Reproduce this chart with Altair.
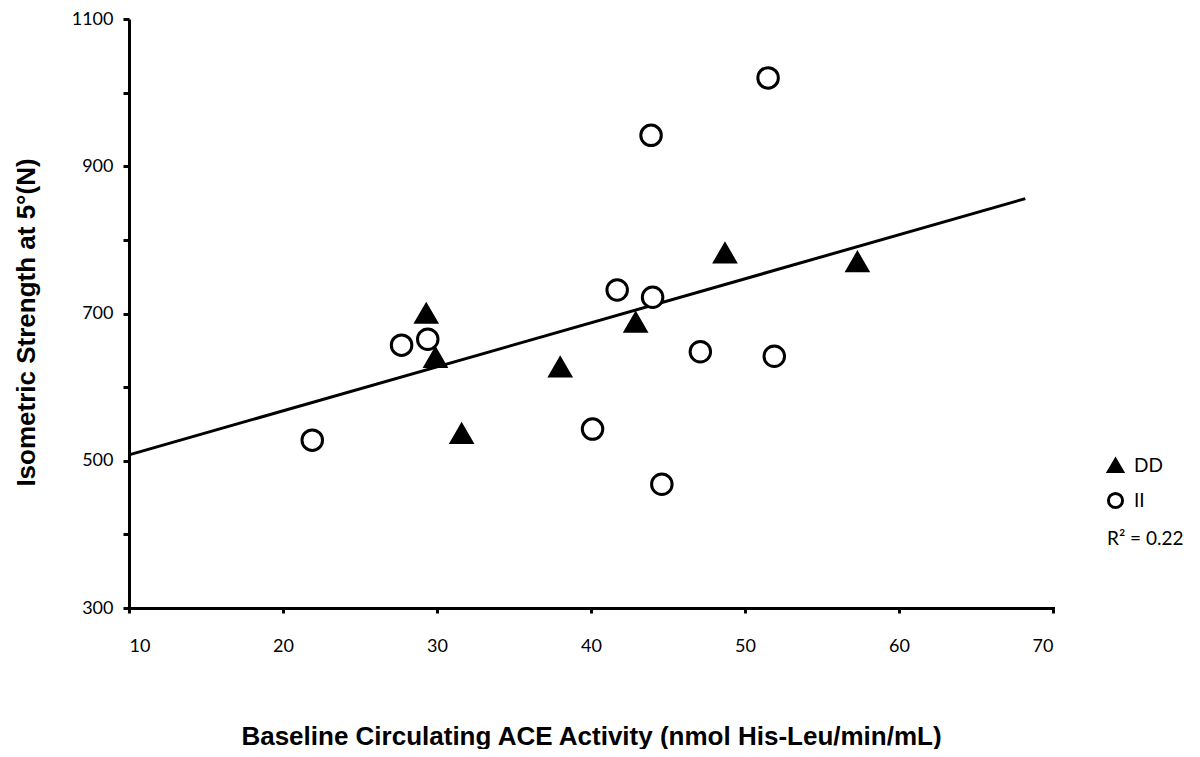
import altair as alt
import pandas as pd

# DD genotype (filled triangles)
dd_x = [29.3, 29.9, 31.6, 38.0, 42.9, 48.7, 57.3]
dd_y = [700, 640, 537, 627, 688, 782, 770]

# II genotype (open circles)
ii_x = [21.9, 27.7, 29.4, 40.1, 41.7, 43.9, 44.0, 44.6, 47.1, 51.5, 51.9]
ii_y = [528, 657, 665, 543, 732, 942, 722, 468, 648, 1020, 642]

# trend line end points
trend_x = [10, 68.2]
trend_y = [508, 856]

groups = ["DD", "II"]
r2_text = "R² = 0.22"

x_ticks = [10, 20, 30, 40, 50, 60, 70]
y_ticks = [300, 400, 500, 600, 700, 800, 900, 1000, 1100]

pts = pd.DataFrame(
    {"x": dd_x + ii_x, "y": dd_y + ii_y,
     "g": ["DD"] * len(dd_x) + ["II"] * len(ii_x)}
)
trend = pd.DataFrame({"x": trend_x, "y": trend_y})

LABEL_FONT = "Lato"
TITLE_FONT = "Liberation Sans"

xs = alt.Scale(domain=[10, 70], nice=False, zero=False)
ys = alt.Scale(domain=[300, 1100], nice=False, zero=False)

x_axis = alt.Axis(
    values=x_ticks, grid=False, domainColor="black", domainWidth=3,
    tickColor="black", tickWidth=3, tickSize=5, labelPadding=24,
    labelFont=LABEL_FONT, labelFontSize=18, labelColor="black",
    labelBaseline="top", format="d",
    title="Baseline Circulating ACE Activity (nmol His-Leu/min/mL)",
    titleFont=TITLE_FONT, titleFontSize=26, titleFontWeight="bold",
    titleColor="black", titleY=136, titleBaseline="alphabetic",
)
y_axis = alt.Axis(
    values=y_ticks, grid=False, domainColor="black", domainWidth=3,
    tickColor="black", tickWidth=3, tickSize=6, labelPadding=10,
    labelFont=LABEL_FONT, labelFontSize=18, labelColor="black",
    format="d",
    labelExpr="(datum.value - 300) % 200 == 0 ? datum.label : ''",
    title="Isometric Strength at 5°(N)",
    titleFont=TITLE_FONT, titleFontSize=26, titleFontWeight="bold",
    titleColor="black", titleX=-103, titleY=303, titleAngle=-90,
    titleBaseline="middle", titleAlign="center",
)

line = alt.Chart(trend).mark_line(color="black", strokeWidth=3).encode(
    x=alt.X("x:Q", scale=xs, axis=x_axis),
    y=alt.Y("y:Q", scale=ys, axis=y_axis),
)


def make_legend():
    return alt.Legend(
        title=None, orient="none", legendX=977, legendY=437,
        symbolSize=200, symbolStrokeWidth=3, rowPadding=9,
        labelFont=LABEL_FONT, labelFontSize=19, labelColor="black",
        labelOffset=9,
    )


points = alt.Chart(pts).mark_point(size=420, strokeWidth=3, opacity=1).encode(
    x=alt.X("x:Q", scale=xs),
    y=alt.Y("y:Q", scale=ys),
    shape=alt.Shape(
        "g:N",
        scale=alt.Scale(domain=groups, range=["triangle-up", "circle"]),
        legend=make_legend(),
    ),
    fill=alt.Fill(
        "g:N", scale=alt.Scale(domain=groups, range=["black", "white"]),
        legend=make_legend(),
    ),
    stroke=alt.Stroke(
        "g:N", scale=alt.Scale(domain=groups, range=["black", "black"]),
        legend=make_legend(),
    ),
)

r2 = alt.Chart(pd.DataFrame({"t": [r2_text]})).mark_text(
    align="left", baseline="middle", font=LABEL_FONT, fontSize=19,
    color="black",
).encode(text="t:N", x=alt.value(978), y=alt.value(520))

chart = (
    alt.layer(line, points, r2)
    .properties(
        width=924, height=589,
        autosize=alt.AutoSizeParams(type="none"),
        padding={"left": 121, "top": 11, "right": 130, "bottom": 141},
    )
    .configure_view(stroke=None)
    .configure_axisX(domainCap="square")
)

chart.save("out.html", embed_options={"renderer": "svg", "actions": False})
